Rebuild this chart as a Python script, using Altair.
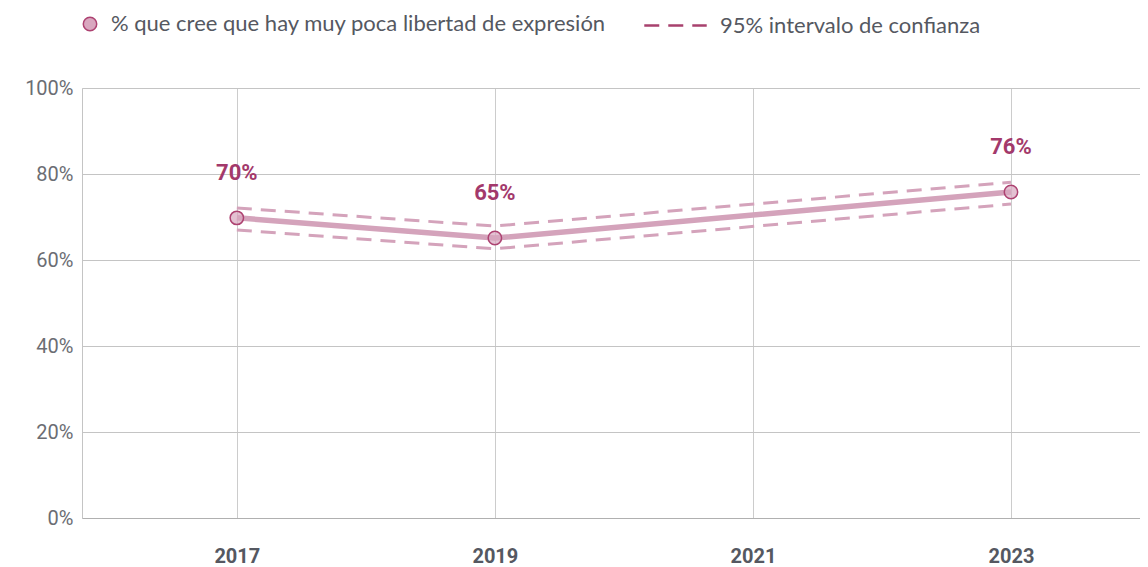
import altair as alt
import pandas as pd

years = [2017, 2019, 2023]
values = [69.8, 65.1, 75.8]
labels = ["70%", "65%", "76%"]
ci_low = [67.0, 62.6, 73.0]
ci_high = [72.1, 67.9, 78.1]

serie_name = "% que cree que hay muy poca libertad de expresión"
ci_name = "95% intervalo de confianza"

df = pd.DataFrame({"year": years, "value": values, "label": labels, "serie": serie_name})
ci_df = pd.DataFrame({
    "year": years * 2,
    "bound": ["low"] * 3 + ["high"] * 3,
    "v": ci_low + ci_high,
    "ci": ci_name,
})

x_scale = alt.Scale(domain=[2015.8, 2024.0], nice=False, zero=False)
y_scale = alt.Scale(domain=[0, 100], nice=False)

x_axis = alt.Axis(values=[2017, 2019, 2021, 2023], format="d", title=None, ticks=False,
                  labelPadding=28, labelFontWeight="bold", labelFontSize=20,
                  labelColor="#555861", labelFont="Roboto", grid=True,
                  gridColor="#cccccc", domainColor="#b0b0b0", labelFlush=False)
y_axis = alt.Axis(values=[0, 20, 40, 60, 80, 100], title=None, ticks=False,
                  labelExpr="datum.value + '%'", labelPadding=9, labelFontSize=20,
                  labelColor="#6b6d73", labelFont="Roboto", grid=True,
                  gridColor="#c4c4c4", domainColor="#c4c4c4")

base_x = alt.X("year:Q", scale=x_scale, axis=x_axis)

ci = alt.Chart(ci_df).mark_line(strokeWidth=3, color="#d4a3bb").encode(
    x=base_x,
    y=alt.Y("v:Q", scale=y_scale, axis=y_axis),
    detail="bound:N",
    strokeDash=alt.StrokeDash("ci:N", scale=alt.Scale(range=[[15, 9]]),
                              legend=alt.Legend(title=None, orient="none", legendX=561, legendY=-95,
                                                symbolType="stroke", symbolSize=3900,
                                                symbolStrokeColor="#a8416e", symbolStrokeWidth=2.5,
                                                labelFontSize=22, labelColor="#555861",
                                                labelFont="Lato", labelOffset=12, labelLimit=600)),
)

line = alt.Chart(df).mark_line(strokeWidth=5.5, color="#d4a3bb").encode(
    x=base_x,
    y=alt.Y("value:Q", scale=y_scale, axis=y_axis),
)

points = alt.Chart(df).mark_point(filled=True, size=180, strokeWidth=1.5, stroke="#ad4271",
                                  opacity=1, fillOpacity=0.7).encode(
    x=base_x,
    y=alt.Y("value:Q", scale=y_scale, axis=y_axis),
    fill=alt.Fill("serie:N", scale=alt.Scale(range=["#d9a7bf"]),
                  legend=alt.Legend(title=None, orient="none", legendX=-3, legendY=-75,
                                    symbolType="circle", symbolSize=180,
                                    symbolStrokeColor="#ad4271", symbolStrokeWidth=1.5,
                                    symbolOpacity=1,
                                    labelFontSize=22, labelColor="#555861",
                                    labelFont="Lato", labelOffset=10, labelLimit=700)),
)

text = alt.Chart(df).mark_text(dy=-45, fontSize=22, fontWeight="bold", color="#a3396b",
                               font="Roboto").encode(
    x=base_x,
    y=alt.Y("value:Q", scale=y_scale, axis=y_axis),
    text="label:N",
)

chart = alt.layer(ci, line, points, text).resolve_legend(fill="independent", strokeDash="independent").properties(
    width=1058, height=430,
    autosize=alt.AutoSizeParams(type="none"),
    padding={"left": 74, "top": 80, "right": 0, "bottom": 49},
).configure_view(stroke=None).configure(background="white")

chart.save("out.html", embed_options={"renderer": "svg", "actions": False})
